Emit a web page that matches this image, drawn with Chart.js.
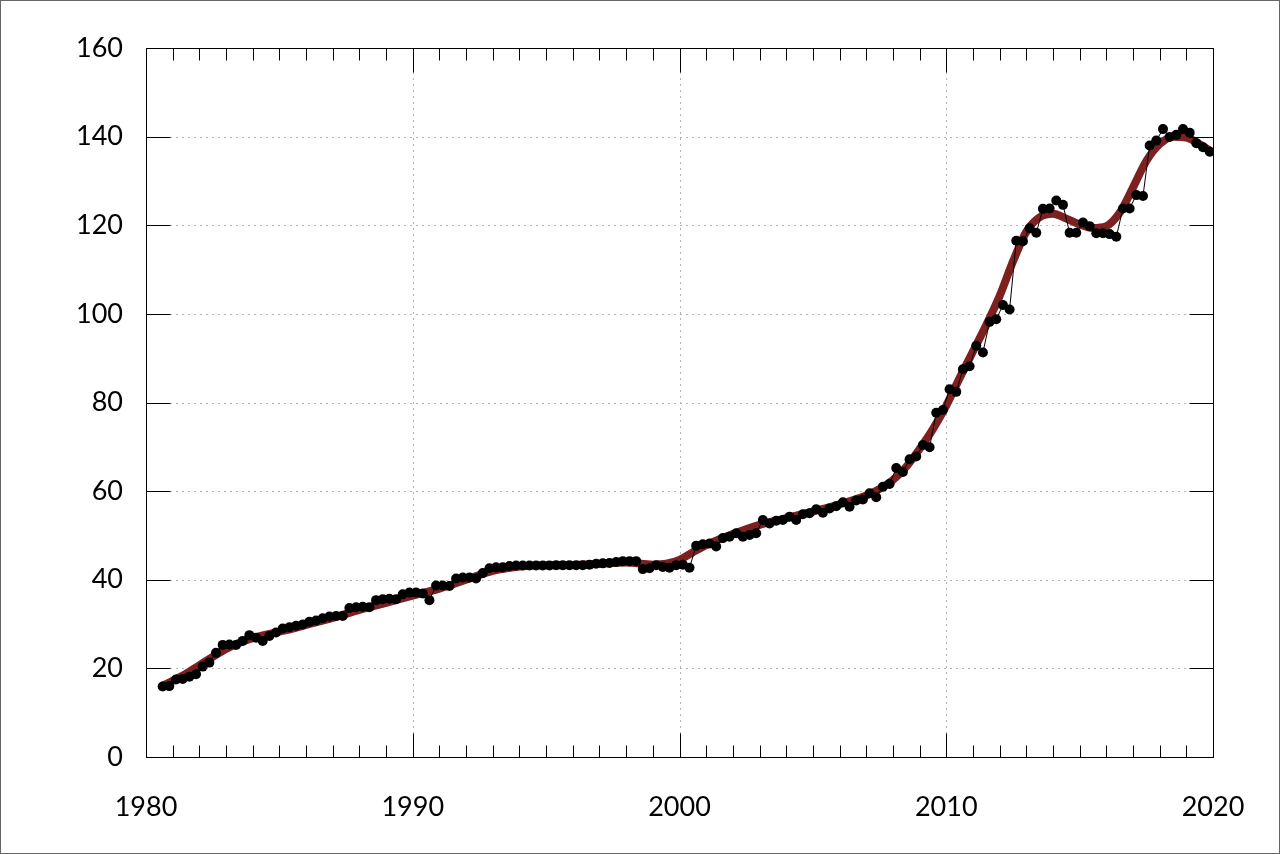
<!DOCTYPE html>
<html>
<head>
<meta charset="utf-8">
<script src="https://cdn.jsdelivr.net/npm/chart.js@4/dist/chart.umd.min.js"></script>
<style>
html,body{margin:0;padding:0;background:#fff;}
canvas{display:block;}
</style>
</head>
<body>
<canvas id="c" width="1280" height="854"></canvas>
<script>
// Quarterly observations, 1980 Q3 .. 2019 Q4
const firstYear = 1980, firstQuarter = 3;
const quarterlyValues = [
  15.9,16.0,17.5,17.6,18.1,18.7,20.4,21.3,23.5,25.3,
  25.4,25.3,26.2,27.5,26.9,26.2,27.3,28.1,29.0,29.3,
  29.6,29.9,30.5,30.8,31.3,31.7,31.8,31.8,33.6,33.8,
  33.9,33.8,35.4,35.6,35.7,35.6,36.7,37.1,37.1,36.9,
  35.4,38.7,38.7,38.6,40.3,40.5,40.5,40.3,41.5,42.6,
  42.8,42.8,43.1,43.2,43.2,43.2,43.2,43.2,43.2,43.3,
  43.3,43.3,43.3,43.3,43.4,43.6,43.7,43.8,44.0,44.2,
  44.2,44.2,42.4,42.6,43.3,42.9,42.7,43.3,43.4,42.7,
  47.7,48.0,48.2,47.5,49.4,49.7,50.5,49.7,50.1,50.5,
  53.5,52.7,53.3,53.5,54.2,53.5,54.8,55.0,55.9,55.1,
  56.1,56.6,57.5,56.5,57.9,58.1,59.5,58.6,61.0,61.6,
  65.2,64.3,67.2,67.8,70.4,69.9,77.7,78.3,83.0,82.4,
  87.5,88.2,92.8,91.3,98.2,98.8,102.0,101.0,116.5,116.4,
  119.3,118.3,123.7,123.8,125.6,124.6,118.3,118.3,120.6,119.8,
  118.2,118.2,118.0,117.4,123.8,123.8,126.8,126.6,138.0,139.1,
  141.7,139.9,140.4,141.7,140.9,138.5,137.6,136.6
];
// Smooth trend line, read at these dates
const trendYears = [1980.6,1981,1981.5,1982,1982.5,1983,1983.5,1984,1984.5,1985,1985.5,1986,1987,1988,1989,1990,1991,1992,1993,1994,1995,1996,1997,1998,1999,1999.5,2000,2000.5,2001,2002,2003,2004,2005,2006,2007,2007.5,2008,2008.5,2009,2009.5,2010,2010.5,2011,2011.5,2012,2012.5,2013,2013.5,2014,2014.5,2015,2015.5,2016,2016.5,2017,2017.5,2018,2018.5,2019,2019.5,2019.9];
const trendValues = [16.0,17.2,18.8,20.7,22.6,24.4,25.8,26.8,27.6,28.3,29.0,29.8,31.4,33.2,34.8,36.4,38.0,40.0,42.0,43.0,43.3,43.3,43.6,43.9,43.4,43.6,44.5,46.2,47.8,50.3,52.4,53.9,55.4,57.0,59.0,60.5,62.5,65.5,69.5,74.0,79.3,85.5,91.5,97.5,104.0,111.8,118.5,121.8,122.6,121.5,120.2,119.4,119.8,122.8,128.5,134.5,138.3,140.0,139.8,138.3,136.8];
const xTickLabels = [1980,1990,2000,2010,2020];
const yTickLabels = [0,20,40,60,80,100,120,140,160];

// quarter midpoints as decimal years
const quarterDates = quarterlyValues.map((_, i) => {
  const q = firstQuarter - 1 + i;
  return firstYear + Math.floor(q / 4) + ((q % 4) + 0.5) / 4;
});
const pointData = quarterlyValues.map((v, i) => ({x: quarterDates[i], y: v}));
const trendData = trendValues.map((v, i) => ({x: trendYears[i], y: v}));

const decorPlugin = {
  id: 'decor',
  beforeDraw(chart) {
    const ctx = chart.ctx;
    ctx.save();
    ctx.fillStyle = '#fff';
    ctx.fillRect(0, 0, chart.width, chart.height);
    ctx.restore();
  },
  beforeDatasetsDraw(chart) {
    const {ctx, chartArea: a, scales: {x, y}} = chart;
    ctx.save();
    ctx.strokeStyle = '#b4b4b4';
    ctx.lineWidth = 1;
    ctx.setLineDash([2, 4]);
    yTickLabels.forEach(v => {
      if (v === 0 || v === 160) return;
      const py = Math.round(y.getPixelForValue(v)) + 0.5;
      ctx.beginPath(); ctx.moveTo(a.left, py); ctx.lineTo(a.right, py); ctx.stroke();
    });
    xTickLabels.forEach(v => {
      if (v === 1980 || v === 2020) return;
      const px = Math.round(x.getPixelForValue(v)) + 0.5;
      ctx.beginPath(); ctx.moveTo(px, a.top); ctx.lineTo(px, a.bottom); ctx.stroke();
    });
    ctx.restore();
  },
  afterDraw(chart) {
    const {ctx, chartArea: a, scales: {x, y}} = chart;
    ctx.save();
    ctx.strokeStyle = '#000';
    ctx.lineWidth = 1;
    ctx.setLineDash([]);
    const L = Math.round(a.left) + 0.5, R = Math.round(a.right) + 0.5;
    const T = Math.round(a.top) + 0.5, B = Math.round(a.bottom) + 0.5;
    ctx.beginPath();
    yTickLabels.forEach(v => {
      const py = Math.round(y.getPixelForValue(v)) + 0.5;
      ctx.moveTo(L, py); ctx.lineTo(L + 24, py);
      ctx.moveTo(R, py); ctx.lineTo(R - 24, py);
    });
    for (let yr = 1981; yr < 2020; yr++) {
      const px = Math.round(x.getPixelForValue(yr)) + 0.5;
      const len = (yr % 10 === 0) ? 24 : 12;
      ctx.moveTo(px, B); ctx.lineTo(px, B - len);
      ctx.moveTo(px, T); ctx.lineTo(px, T + len);
    }
    ctx.stroke();
    ctx.strokeRect(L, T, R - L, B - T);
    ctx.strokeStyle = '#666';
    ctx.strokeRect(0.5, 0.5, chart.width - 1, chart.height - 1);
    ctx.restore();
  }
};

new Chart(document.getElementById('c'), {
  type: 'line',
  data: {
    datasets: [
      {
        label: 'trend',
        data: trendData,
        borderColor: '#7d2020',
        borderWidth: 8,
        pointRadius: 0,
        cubicInterpolationMode: 'monotone',
        fill: false,
        order: 2
      },
      {
        label: 'observed',
        data: pointData,
        borderColor: '#000',
        borderWidth: 1,
        pointRadius: 5,
        pointBackgroundColor: '#000',
        pointBorderWidth: 0,
        tension: 0,
        fill: false,
        order: 1
      }
    ]
  },
  options: {
    responsive: false,
    animation: false,
    devicePixelRatio: 1,
    layout: {padding: {left: 0, top: 48, right: 67, bottom: 0}},
    plugins: {legend: {display: false}, tooltip: {enabled: false}},
    scales: {
      x: {
        type: 'linear',
        min: 1980, max: 2020,
        afterFit(s) { s.height = 97; },
        afterBuildTicks(s) { s.ticks = xTickLabels.map(v => ({value: v})); },
        grid: {display: false, drawTicks: false},
        border: {display: false},
        ticks: {
          padding: 34,
          color: '#000',
          font: {family: 'Lato', size: 27},
          maxRotation: 0,
          callback: v => String(v)
        }
      },
      y: {
        type: 'linear',
        min: 0, max: 160,
        afterFit(s) { s.width = 146; },
        afterBuildTicks(s) { s.ticks = yTickLabels.map(v => ({value: v})); },
        grid: {display: false, drawTicks: false},
        border: {display: false},
        ticks: {
          padding: 23,
          color: '#000',
          font: {family: 'Lato', size: 27},
          callback: v => String(v)
        }
      }
    }
  },
  plugins: [decorPlugin]
});
</script>
</body>
</html>
